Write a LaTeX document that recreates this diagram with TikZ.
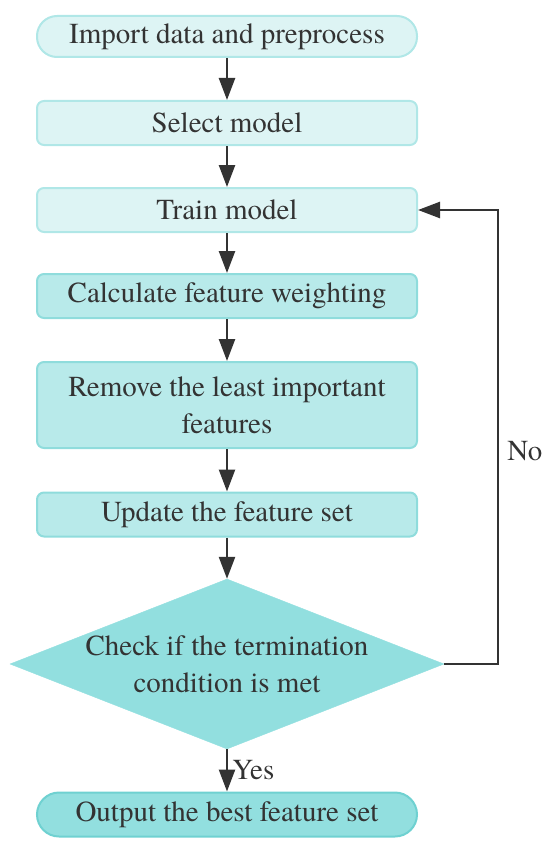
\documentclass[tikz,border=0pt]{standalone}
\usepackage{fontspec}
\setmainfont{texgyretermes}[Extension=.otf, UprightFont=*-regular, BoldFont=*-bold]
\usetikzlibrary{positioning, arrows.meta, shapes.geometric}
\usepackage{xcolor}
\definecolor{cyanLight}{HTML}{DDF4F4}
\definecolor{cyanLightEdge}{HTML}{B0E7E7}
\definecolor{cyanMid}{HTML}{B8EAEA}
\definecolor{cyanMidEdge}{HTML}{8FDCDC}
\definecolor{cyanDark}{HTML}{92DFDF}
\definecolor{cyanDarkEdge}{HTML}{6FD1D1}
\definecolor{inkGray}{HTML}{333333}

\begin{document}
\begin{tikzpicture}[x=1pt, y=-1pt,
        font=\rmfamily\fontsize{29}{37}\selectfont, text=inkGray,
        stepbox/.style={draw, line width=2pt, rounded corners=7pt, minimum width=380pt, minimum height=44pt, inner sep=0pt, align=center},
        flow/.style={draw=inkGray, line width=2.5pt, -{Triangle[length=22pt, width=16pt]}}]
        \useasboundingbox (0,0) rectangle (550,848);
        % light steps
        \node[stepbox, rounded corners=20pt, minimum height=41pt, draw=cyanLightEdge, fill=cyanLight] (import) at (227,36.5) {Import data and preprocess};
        \node[stepbox, draw=cyanLightEdge, fill=cyanLight] (select) at (227,123) {Select model};
        \node[stepbox, draw=cyanLightEdge, fill=cyanLight] (train) at (227,210) {Train model};
        % elimination steps
        \node[stepbox, draw=cyanMidEdge, fill=cyanMid] (weight) at (227,296) {Calculate feature weighting};
        \node[stepbox, minimum height=86pt, draw=cyanMidEdge, fill=cyanMid] (remove) at (227,405) {Remove the least important\\features};
        \node[stepbox, draw=cyanMidEdge, fill=cyanMid] (update) at (227,514.5) {Update the feature set};
        \node[diamond, aspect=2.55, minimum width=434pt, minimum height=170pt, inner sep=0pt, align=center, draw=cyanDark, fill=cyanDark] (check) at (227,664) {Check if the termination\\condition is met};
        \node[stepbox, rounded corners=22pt, draw=cyanDarkEdge, fill=cyanDark] (output) at (227,814.5) {Output the best feature set};

        \draw[flow] (import) -- (select);
        \draw[flow] (select) -- (train);
        \draw[flow] (train) -- (weight);
        \draw[flow] (weight) -- (remove);
        \draw[flow] (remove) -- (update);
        \draw[flow] (update) -- (check);
        \draw[flow] (check) -- node[right, inner sep=4pt] {Yes} (output);
        \draw[flow] (check.east) -- ++(54,0) |- node[pos=0.235, right, inner sep=8pt] {No} (train.east);
    \end{tikzpicture}
\end{document}
